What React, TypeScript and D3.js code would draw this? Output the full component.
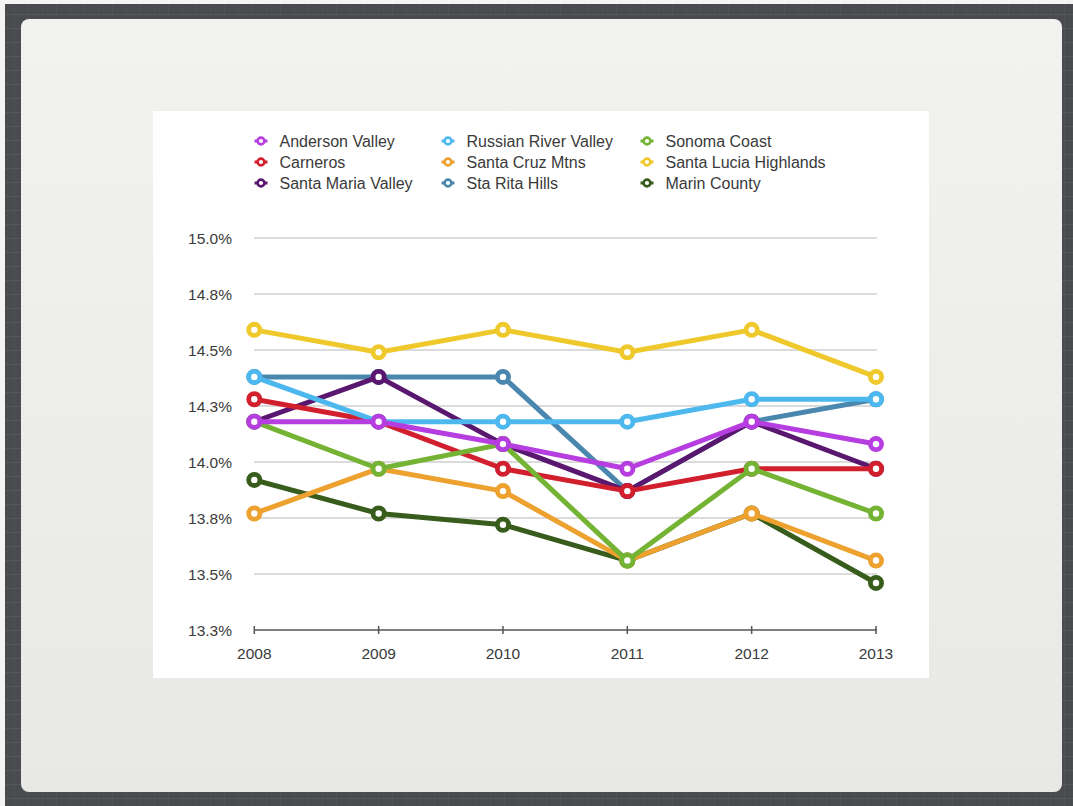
import * as d3 from "d3"

const YEARS = ["2008", "2009", "2010", "2011", "2012", "2013"]

const Y_TICKS = [13.25, 13.5, 13.75, 14.0, 14.25, 14.5, 14.75, 15.0]
const Y_TICK_LABELS = ["13.3%", "13.5%", "13.8%", "14.0%", "14.3%", "14.5%", "14.8%", "15.0%"]

// legend order (row-major, 3 columns)
const NAMES = [
  "Anderson Valley", "Russian River Valley", "Sonoma Coast",
  "Carneros", "Santa Cruz Mtns", "Santa Lucia Highlands",
  "Santa Maria Valley", "Sta Rita Hills", "Marin County",
]

const COLORS = [
  "#b63de0", "#4db8ee", "#74b333",
  "#d21f2e", "#eda12f", "#efc92b",
  "#5a176f", "#4a87ae", "#375c1b",
]

const andersonValley = [14.18, 14.18, 14.08, 13.97, 14.18, 14.08]
const russianRiverValley = [14.38, 14.18, 14.18, 14.18, 14.28, 14.28]
const sonomaCoast = [14.18, 13.97, 14.08, 13.56, 13.97, 13.77]
const carneros = [14.28, 14.18, 13.97, 13.87, 13.97, 13.97]
const santaCruzMtns = [13.77, 13.97, 13.87, 13.56, 13.77, 13.56]
const santaLuciaHighlands = [14.59, 14.49, 14.59, 14.49, 14.59, 14.38]
const santaMariaValley = [14.18, 14.38, 14.08, 13.87, 14.18, 13.97]
const staRitaHills = [14.38, 14.38, 14.38, 13.87, 14.18, 14.28]
const marinCounty = [13.92, 13.77, 13.72, 13.56, 13.77, 13.46]

const VALUES = [
  andersonValley, russianRiverValley, sonomaCoast,
  carneros, santaCruzMtns, santaLuciaHighlands,
  santaMariaValley, staRitaHills, marinCounty,
]

const W = 1073
const H = 806
const FONT = "'Liberation Sans', Arial, Helvetica, sans-serif"

export default function App() {
  const x = d3.scalePoint<string>().domain(YEARS).range([254.3, 876])
  const y = d3.scaleLinear().domain([13.25, 15]).range([630, 238])

  const line = d3
    .line<number>()
    .x((_, i) => x(YEARS[i]) ?? 0)
    .y((d) => y(d))

  // later legend entries sit underneath
  const drawOrder = NAMES.map((_, i) => i).reverse()

  const legendX = [261, 448, 647]
  const legendY = [141, 162, 183]

  return (
    <div style={{ position: "absolute", left: 0, top: 0 }}>
      <svg width={W} height={H} viewBox={`0 0 ${W} ${H}`} style={{ display: "block" }}>
        <defs>
          <linearGradient id="panel" x1="0" y1="0" x2="0" y2="1">
            <stop offset="0" stopColor="#f2f2f0" />
            <stop offset="1" stopColor="#e8e8e6" />
          </linearGradient>
          <pattern id="tex" width="14" height="14" patternUnits="userSpaceOnUse">
            <rect width="14" height="14" fill="#4a4b4f" />
            <line x1="0" y1="0.5" x2="14" y2="0.5" stroke="#56575b" strokeWidth={1} />
            <line x1="0.5" y1="0" x2="0.5" y2="14" stroke="#515256" strokeWidth={1} />
          </pattern>
        </defs>

        <rect width={W} height={H} fill="#f4f4f4" />
        <rect x={5} y={4} width={W - 5} height={H - 4} fill="url(#tex)" />
        <rect x={21} y={19} width={1041} height={773} rx={8} fill="url(#panel)" />
        <rect x={153} y={111} width={776} height={567} fill="#ffffff" />

        {/* grid */}
        {Y_TICKS.slice(1).map((t) => (
          <line key={t} x1={254} x2={877} y1={y(t)} y2={y(t)} stroke="#cfcfcf" strokeWidth={1.5} />
        ))}

        {/* y labels */}
        {Y_TICKS.map((t, i) => (
          <text
            key={t}
            x={232}
            y={y(t)}
            dy="0.36em"
            textAnchor="end"
            fontFamily={FONT}
            fontSize={15.5}
            fill="#3a3a3a"
          >
            {Y_TICK_LABELS[i]}
          </text>
        ))}

        {/* x axis */}
        <line x1={254} x2={877} y1={y(13.25)} y2={y(13.25)} stroke="#555" strokeWidth={1.5} />
        {YEARS.map((yr) => (
          <g key={yr}>
            <line
              x1={x(yr)}
              x2={x(yr)}
              y1={y(13.25) - 4}
              y2={y(13.25) + 4}
              stroke="#555"
              strokeWidth={1.5}
            />
            <text
              x={x(yr)}
              y={659}
              textAnchor="middle"
              fontFamily={FONT}
              fontSize={15.5}
              fill="#3a3a3a"
            >
              {yr}
            </text>
          </g>
        ))}

        {/* series */}
        {drawOrder.map((s) => (
          <g key={NAMES[s]}>
            <path
              d={line(VALUES[s]) ?? ""}
              fill="none"
              stroke={COLORS[s]}
              strokeWidth={5}
              strokeLinejoin="round"
            />
            {VALUES[s].map((v, i) => (
              <circle
                key={i}
                cx={x(YEARS[i])}
                cy={y(v)}
                r={5.6}
                fill="#fff"
                stroke={COLORS[s]}
                strokeWidth={4.8}
              />
            ))}
          </g>
        ))}

        {/* legend */}
        {NAMES.map((name, i) => {
          const lx = legendX[i % 3]
          const ly = legendY[Math.floor(i / 3)]
          return (
            <g key={name}>
              <line x1={lx - 6.5} x2={lx + 6.5} y1={ly} y2={ly} stroke={COLORS[i]} strokeWidth={3} />
              <circle cx={lx} cy={ly} r={3.4} fill="#fff" stroke={COLORS[i]} strokeWidth={2.6} />
              <text
                x={lx + 18.5}
                y={ly}
                dy="0.36em"
                fontFamily={FONT}
                fontSize={16}
                fill="#3a3a3a"
              >
                {name}
              </text>
            </g>
          )
        })}
      </svg>
    </div>
  )
}
